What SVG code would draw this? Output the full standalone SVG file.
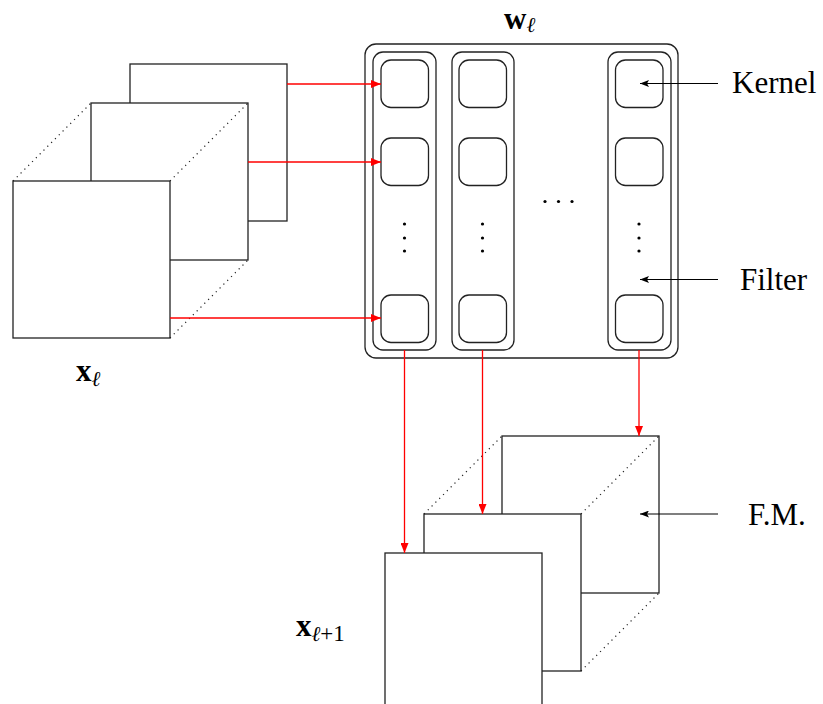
<svg xmlns="http://www.w3.org/2000/svg" width="823" height="704" viewBox="0 0 823 704">
<defs>
<style>
.frame{fill:#fff;stroke:#222;stroke-width:1.3}
.dot{fill:none;stroke:#222;stroke-width:1.2;stroke-dasharray:1.2 4.2}
.rr{fill:#fff;stroke:#222;stroke-width:1.3}
.red{fill:none;stroke:#f00;stroke-width:1.3;marker-end:url(#ar)}
.blk{fill:none;stroke:#000;stroke-width:1.2;marker-end:url(#ab)}
.lbl{font-family:"Liberation Serif","DejaVu Serif",serif;font-size:31px;fill:#000}
.bx{font-family:"Liberation Serif","DejaVu Serif",serif;font-weight:bold;font-size:31px;fill:#000}
.sub{font-family:"DejaVu Serif","Liberation Serif",serif;font-style:italic;font-size:21px;font-weight:normal}
.subr{font-family:"Liberation Serif","DejaVu Serif",serif;font-size:23px;font-weight:normal}
.vd{fill:#000}
</style>
<marker id="ar" markerUnits="userSpaceOnUse" markerWidth="10" markerHeight="8" refX="10" refY="4" orient="auto"><path d="M0,0 L10,4 L0,8 z" fill="#f00"/></marker>
<marker id="ab" markerUnits="userSpaceOnUse" markerWidth="9" markerHeight="7" refX="9" refY="3.5" orient="auto"><path d="M0,0 L9,3.5 L0,7 L2,3.5 z" fill="#000"/></marker>
</defs>
<rect width="823" height="704" fill="#fff"/>

<g id="input-stack">
<rect class="frame" x="130" y="64" width="157" height="157"/>
<rect class="frame" x="91" y="103" width="157" height="157"/>
<rect class="frame" x="13" y="181" width="157" height="157"/>
<line class="dot" x1="13" y1="181" x2="91" y2="103"/>
<line class="dot" x1="170" y1="181" x2="248" y2="103"/>
<line class="dot" x1="170" y1="338" x2="248" y2="260"/>
</g>
<g id="label-x">
<text class="bx" x="76" y="381">x<tspan class="sub" dy="5">ℓ</tspan></text>
</g>

<g id="weights">
<rect class="rr" x="365" y="44" width="313" height="314" rx="11"/>
<g id="filter-1">
<rect class="rr" x="373" y="52" width="63" height="298" rx="10"/>
<rect class="rr" x="381" y="60" width="47.5" height="47.5" rx="10"/>
<rect class="rr" x="381" y="138" width="47.5" height="47.5" rx="10"/>
<rect class="rr" x="381" y="295" width="47.5" height="47.5" rx="10"/>
<circle class="vd" cx="404.5" cy="224" r="1.6"/><circle class="vd" cx="404.5" cy="238" r="1.6"/><circle class="vd" cx="404.5" cy="251" r="1.6"/>
</g>
<g id="filter-2">
<rect class="rr" x="452" y="52" width="62" height="298" rx="10"/>
<rect class="rr" x="459" y="60" width="47.5" height="47.5" rx="10"/>
<rect class="rr" x="459" y="138" width="47.5" height="47.5" rx="10"/>
<rect class="rr" x="459" y="295" width="47.5" height="47.5" rx="10"/>
<circle class="vd" cx="482.5" cy="224" r="1.6"/><circle class="vd" cx="482.5" cy="238" r="1.6"/><circle class="vd" cx="482.5" cy="251" r="1.6"/>
</g>
<g id="hdots">
<circle class="vd" cx="545" cy="201.5" r="1.6"/><circle class="vd" cx="558.5" cy="201.5" r="1.6"/><circle class="vd" cx="572" cy="201.5" r="1.6"/>
</g>
<g id="filter-n">
<rect class="rr" x="608" y="52" width="63" height="298" rx="10"/>
<rect class="rr" x="615.5" y="60" width="47.5" height="47.5" rx="10"/>
<rect class="rr" x="615.5" y="138" width="47.5" height="47.5" rx="10"/>
<rect class="rr" x="615.5" y="295" width="47.5" height="47.5" rx="10"/>
<circle class="vd" cx="639" cy="224" r="1.6"/><circle class="vd" cx="639" cy="238" r="1.6"/><circle class="vd" cx="639" cy="251" r="1.6"/>
</g>
</g>
<g id="label-w">
<text class="bx" x="504" y="29">w<tspan class="sub" dy="3">ℓ</tspan></text>
</g>

<g id="output-stack">
<rect class="frame" x="502" y="436" width="157" height="157"/>
<rect class="frame" x="424" y="514" width="157" height="157"/>
<line class="dot" x1="424" y1="514" x2="502" y2="436"/>
<line class="dot" x1="581" y1="514" x2="659" y2="436"/>
<line class="dot" x1="581" y1="671" x2="659" y2="593"/>
<rect class="frame" x="385" y="553" width="157" height="160"/>
</g>
<g id="label-x1">
<text class="bx" x="296" y="636">x<tspan class="sub" dy="5">ℓ</tspan><tspan class="subr">+1</tspan></text>
</g>

<g id="labels">
<text class="lbl" x="732" y="93">Kernel</text>
<text class="lbl" x="740" y="290">Filter</text>
<text class="lbl" x="748" y="525">F.M.</text>
</g>

<g id="connectors">
<line class="red" x1="287" y1="84" x2="381" y2="84"/>
<line class="red" x1="248" y1="162" x2="381" y2="162"/>
<line class="red" x1="170" y1="318" x2="381" y2="318"/>
<line class="red" x1="404.5" y1="350" x2="404.5" y2="553"/>
<line class="red" x1="482.5" y1="350" x2="482.5" y2="514"/>
<line class="red" x1="639" y1="350" x2="639" y2="436"/>
<line class="blk" x1="718" y1="83.5" x2="640" y2="83.5"/>
<line class="blk" x1="718" y1="279.5" x2="640" y2="279.5"/>
<line class="blk" x1="718" y1="514" x2="640" y2="514"/>
</g>
</svg>
